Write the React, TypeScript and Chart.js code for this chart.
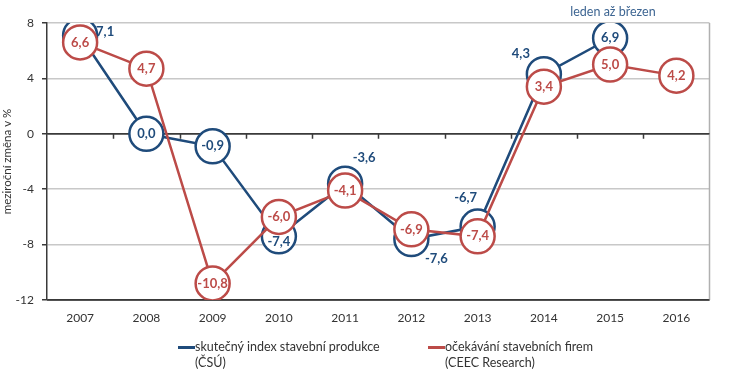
import React, { useEffect, useRef } from 'react';
import { Chart, registerables } from 'chart.js';
Chart.register(...registerables);

const years = ['2007', '2008', '2009', '2010', '2011', '2012', '2013', '2014', '2015', '2016'];
const actualIndex: (number | null)[] = [7.1, 0.0, -0.9, -7.4, -3.6, -7.6, -6.7, 4.3, 6.9, null];
const firmExpectations: number[] = [6.6, 4.7, -10.8, -6.0, -4.1, -6.9, -7.4, 3.4, 5.0, 4.2];
const yTickValues = [8, 4, 0, -4, -8, -12];
const actualLabelPlacement = ['right', 'in', 'in', 'lowIn', 'topRight', 'bottomRight', 'upperLeft', 'left', 'in', 'in'];
const firmLabelPlacement = ['in', 'in', 'in', 'in', 'in', 'in', 'in', 'in', 'in', 'in'];

const BLUE = '#1F4B7B';
const RED = '#BC4B48';
const FONT = 'Lato, "Open Sans", sans-serif';

const placementOffsets: Record<string, [number, number]> = {
  in: [0, 0],
  lowIn: [0, 6],
  right: [25, -4],
  topRight: [19, -26],
  bottomRight: [25, 20],
  upperLeft: [-12, -29],
  left: [-23, -20],
};

const fmt = (v: number) => v.toFixed(1).replace('.', ',');

export default function App() {
  const ref = useRef<HTMLCanvasElement | null>(null);
  useEffect(() => {
    if (!ref.current) return;
    const labelPlugin = {
      id: 'pointLabels',
      afterDatasetDraw(chart: any, args: any) {
        const ctx = chart.ctx;
        const ds = chart.data.datasets[args.index];
        const placements = args.index === 0 ? actualLabelPlacement : firmLabelPlacement;
        ctx.save();
        ctx.font = `bold 13px ${FONT}`;
        ctx.fillStyle = ds.borderColor;
        ctx.textAlign = 'center';
        ctx.textBaseline = 'middle';
        args.meta.data.forEach((pt: any, i: number) => {
          const v = ds.data[i];
          if (v === null || v === undefined) return;
          const [dx, dy] = placementOffsets[placements[i]];
          ctx.fillText(fmt(v), pt.x + dx, pt.y + dy);
        });
        ctx.restore();
      },
    };
    const framePlugin = {
      id: 'frame',
      beforeDatasetsDraw(chart: any) {
        const { ctx, chartArea: a, scales } = chart;
        const y0 = scales.y.getPixelForValue(0);
        ctx.save();
        ctx.strokeStyle = '#b0b0b0';
        ctx.lineWidth = 1.5;
        ctx.beginPath();
        ctx.moveTo(a.right, a.top);
        ctx.lineTo(a.right, a.bottom);
        ctx.stroke();
        ctx.strokeStyle = '#3a3a3a';
        ctx.lineWidth = 1.5;
        ctx.beginPath();
        ctx.moveTo(a.left, y0);
        ctx.lineTo(a.right, y0);
        const n = years.length;
        const step = (a.right - a.left) / n;
        for (let i = 1; i < n; i++) {
          const x = Math.round(a.left + step * i) + 0.5;
          ctx.moveTo(x, y0);
          ctx.lineTo(x, y0 + 5);
        }
        ctx.stroke();
        ctx.beginPath();
        ctx.moveTo(a.left, a.bottom);
        ctx.lineTo(a.right, a.bottom);
        ctx.stroke();
        ctx.restore();
      },
    };
    const chart = new Chart(ref.current, {
      type: 'line',
      data: {
        labels: years,
        datasets: [
          {
            label: 'skutečný index stavební produkce (ČSÚ)',
            data: actualIndex,
            borderColor: BLUE,
            backgroundColor: '#ffffff',
            borderWidth: 2.5,
            pointRadius: 17,
            pointBorderWidth: 2.5,
            pointBackgroundColor: '#ffffff',
            pointBorderColor: BLUE,
            order: 1,
          },
          {
            label: 'očekávání stavebních firem (CEEC Research)',
            data: firmExpectations,
            borderColor: RED,
            backgroundColor: '#ffffff',
            borderWidth: 2.5,
            pointRadius: 17,
            pointBorderWidth: 2.5,
            pointBackgroundColor: '#ffffff',
            pointBorderColor: RED,
            order: 0,
          },
        ],
      },
      options: {
        animation: false,
        responsive: false,
        maintainAspectRatio: false,
        layout: { padding: { left: 0, right: 17, top: 23, bottom: 0 } },
        plugins: {
          legend: { display: false },
          tooltip: { enabled: false },
        },
        scales: {
          x: {
            type: 'category',
            offset: true,
            grid: { display: false, drawTicks: false },
            border: { display: false },
            ticks: { color: '#333', font: { family: FONT, size: 12 }, padding: 11, maxRotation: 0 },
            afterFit: (s: any) => { s.height = 83; },
          },
          y: {
            min: -12,
            max: 8,
            afterBuildTicks: (s: any) => { s.ticks = yTickValues.map((v) => ({ value: v })); },
            grid: {
              color: (c: any) => (c.tick && (c.tick.value === 0 || c.tick.value === -12) ? '#3a3a3a' : '#c8c8c8'),
              tickColor: '#3a3a3a',
              tickLength: 5,
              lineWidth: 1.5,
            },
            border: { display: true, color: '#3a3a3a', width: 1.5 },
            ticks: { color: '#333', font: { family: FONT, size: 12 }, padding: 8 },
            title: { display: true, text: 'meziroční změna v %', color: '#333', font: { family: FONT, size: 11.5 }, padding: 0 },
            afterFit: (s: any) => { s.width = 47; },
          },
        },
      },
      plugins: [framePlugin, labelPlugin],
    });
    return () => chart.destroy();
  }, []);

  const legendText: React.CSSProperties = { position: 'absolute', fontFamily: FONT, fontSize: 12.5, lineHeight: '16px', color: '#333', whiteSpace: 'nowrap' };
  return (
    <div style={{ position: 'fixed', left: 0, top: 0, width: 729, height: 383, background: '#fff' }}>
      <canvas ref={ref} width={729} height={383} style={{ position: 'absolute', left: 0, top: 0, width: 729, height: 383 }} />
      <div style={{ position: 'absolute', left: 613, top: 11, transform: 'translate(-50%, -50%)', fontFamily: FONT, fontSize: 12.5, color: '#3D6592', whiteSpace: 'nowrap' }}>leden až březen</div>
      <div style={{ position: 'absolute', left: 178, top: 346, width: 17, height: 3, background: BLUE }} />
      <div style={{ ...legendText, left: 195, top: 339 }}>skutečný index stavební produkce<br />(ČSÚ)</div>
      <div style={{ position: 'absolute', left: 428, top: 346, width: 17, height: 3, background: RED }} />
      <div style={{ ...legendText, left: 445, top: 339 }}>očekávání stavebních firem<br />(CEEC Research)</div>
    </div>
  );
}
